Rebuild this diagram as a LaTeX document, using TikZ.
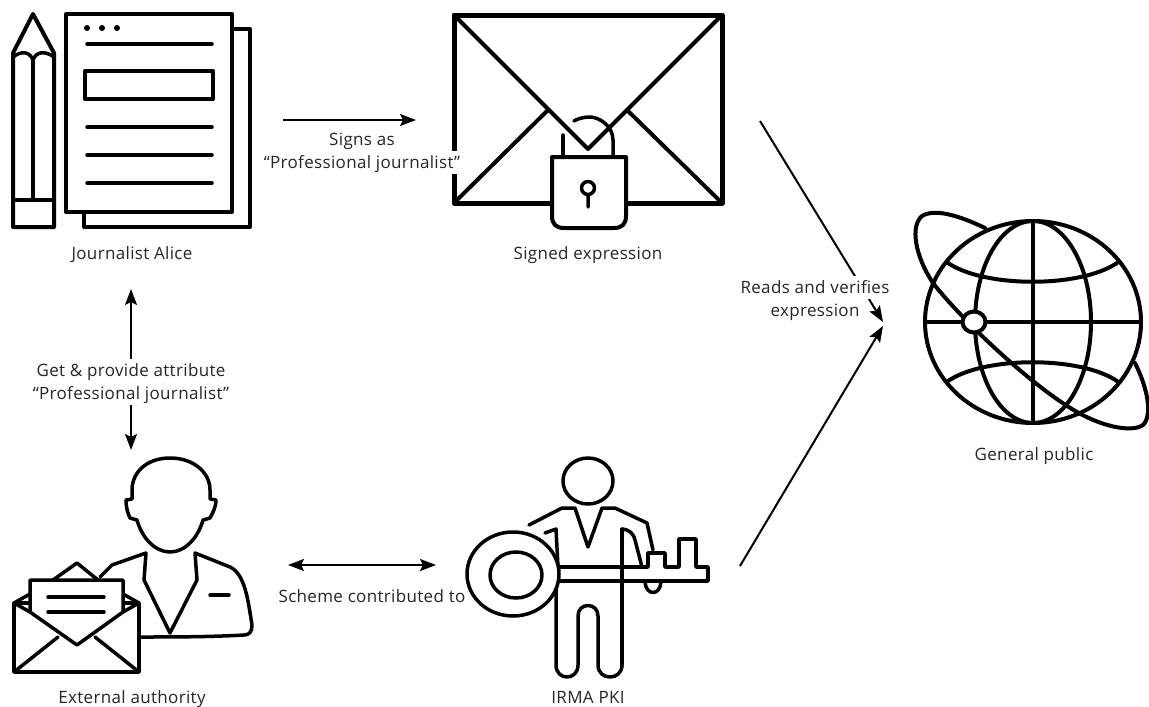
\documentclass[tikz,border=0pt]{standalone}
\usepackage{fontspec}
\setmainfont[LetterSpace=2]{Open Sans}
\usetikzlibrary{arrows.meta}
\usetikzlibrary{positioning}

\begin{document}
\begin{tikzpicture}[x=1pt,y=-1pt,>={Stealth[length=16pt,width=12pt,inset=3pt]},semithick]
		\tikzstyle{icon}=[draw=black,line width=4pt,line join=round,line cap=round]
		\tikzstyle{thin icon}=[icon,line width=3.5pt]
		\tikzstyle{label}=[fill=white,text=black!85,inner xsep=1pt,inner ysep=3pt,text height=15pt,text depth=2pt,font=\fontsize{17}{23}\selectfont]
		\tikzstyle{link}=[line width=2pt,black]
		
		\useasboundingbox (0,0) rectangle (1149,707);
		
		% pencil
		\draw[icon] (13,227) -- (13,53) -- (33,14) -- (54,53) -- (54,227) -- cycle;
		\draw[thin icon] (13,57) .. controls (22,50) and (30,52) .. (33,60) .. controls (36,52) and (44,50) .. (54,57);
		\draw[thin icon] (33,60) -- (33,200) (13,200) -- (54,200);
		
		% pages
		\draw[icon] (232,29) -- (250,29) -- (250,227) -- (84,227) -- (84,212);
		\draw[icon] (66,14) rectangle (232,212);
		\draw[icon] (85,71) rectangle (213,99);
		\foreach \y in {44,127,155,183}
			\draw[thin icon] (87,\y) -- (212,\y);
		\foreach \x in {87,102,117}
			\fill (\x,28) circle (3pt);
		
		% envelope with lock
		\draw[icon,line width=5pt] (454,15) rectangle (722,203);
		\draw[icon] (454,15) -- (588,149) -- (722,15);
		\draw[icon] (454,203) -- (548,110) (722,203) -- (628,111);
		\draw[icon,fill=white] (552,157) -- (626,157) -- (626,216) .. controls (626,224) and (622,228) .. (614,228) -- (564,228) .. controls (556,228) and (552,224) .. (552,216) -- cycle;
		\draw[thin icon] (563,157) -- (563,135);
		\draw[thin icon] (613,157) -- (613,140) .. controls (613,125) and (598,117) .. (590,117) .. controls (583,117) and (577,119) .. (574,121);
		\draw[thin icon] (588,188) circle (6.5pt) (588,195) -- (588,207);
		
		% authority
		\draw[thin icon] (170,458) .. controls (147,458) and (132,472) .. (132,490) -- (132,499) -- (126,500) .. controls (126,508) and (128,514) .. (130,518) -- (137,520) .. controls (142,538) and (155,552) .. (170,552) .. controls (185,552) and (198,538) .. (203,520) -- (210,518) .. controls (212,514) and (216,508) .. (216,500) -- (210,499) -- (210,490) .. controls (210,472) and (193,458) .. (170,458) -- cycle;
		\draw[thin icon] (100,577) -- (112,565) -- (146,553) -- (144,580) -- (170,633) -- (197,580) -- (195,553) -- (230,567) .. controls (245,574) and (248,600) .. (252,625) .. controls (252,631) and (250,635) .. (244,635) .. controls (210,637) and (170,637) .. (138,637);
		\draw[thin icon] (210,595) -- (229,595);
		\draw[thin icon] (53,580) -- (77,563) -- (98,580);
		\draw[thin icon] (14,603) -- (30,594) (123,594) -- (139,603);
		\draw[thin icon,fill=white] (14,603) rectangle (139,672);
		\draw[thin icon,fill=white] (30,612) -- (30,580) -- (123,580) -- (123,612) -- (77,645) -- cycle;
		\draw[thin icon] (14,603) -- (30,612) (139,603) -- (123,612);
		\draw[thin icon] (14,672) -- (58,637) (139,672) -- (95,637);
		\draw[thin icon] (48,597) -- (104,597) (48,612) -- (104,612);
		
		% key holder
		\draw[thin icon] (588,481) ellipse (25pt and 23pt);
		\draw[thin icon] (529,525) -- (562,508) -- (575,508) -- (588,547) -- (602,508) -- (615,508) -- (647,523) -- (653,550);
		\draw[thin icon] (545,533) -- (556,529) -- (558,567);
		\draw[thin icon] (622,529) .. controls (630,530) and (633,533) .. (635,540) -- (642,567);
		\draw[thin icon] (556,583) -- (556,665) .. controls (556,681) and (578,681) .. (578,665) -- (578,616) .. controls (578,602) and (598,602) .. (598,616) -- (598,665) .. controls (598,681) and (622,681) .. (622,665);
		\draw[thin icon] (645,582) .. controls (646,596) and (660,596) .. (661,582);
		\draw[thin icon,fill=white] (558,581) -- (708,581) -- (708,567) -- (696,567) -- (696,539) -- (679,539) -- (679,567) -- (665,567) -- (665,553) -- (648,553) -- (648,567) -- (558,567);
		\draw[thin icon] (622,665) -- (622,529);
		\draw[thin icon,fill=white] (513,574) ellipse (46pt and 42pt);
		\draw[thin icon] (516,575) ellipse (26pt and 23pt);
		
		% globe
		\draw[icon] (1033,322) ellipse (108pt and 101pt);
		\draw[icon] (1033,322) ellipse (58pt and 101pt);
		\draw[icon] (1033,222) -- (1033,423) (925,322) -- (1141,322);
		\draw[icon] (948,263) .. controls (985,288) and (1080,288) .. (1117,263);
		\draw[icon] (948,381) .. controls (985,356) and (1080,356) .. (1117,381);
		\draw[icon] (985,228) .. controls (960,216) and (935,208) .. (922,216) .. controls (910,226) and (915,256) .. (933,283) .. controls (960,318) and (1030,385) .. (1077,412) .. controls (1105,428) and (1135,433) .. (1144,424) .. controls (1153,412) and (1146,385) .. (1135,363);
		\draw[icon,fill=white] (974,322) ellipse (11.5pt and 10.5pt);
		
		% ends of the links
		\coordinate (AliceOut) at (283,120);
		\coordinate (SignedIn) at (416,120);
		\coordinate (AliceDown) at (131,289);
		\coordinate (AuthorityUp) at (131,450);
		\coordinate (AuthorityOut) at (288,565);
		\coordinate (PkiIn) at (436,565);
		\coordinate (SignedOut) at (760,121);
		\coordinate (PkiOut) at (740,566);
		\coordinate (PublicTop) at (883,322);
		\coordinate (PublicLow) at (883,326);
		
		\draw[link,->] (AliceOut) -- (SignedIn);
		\draw[link,<->] (AliceDown) -- (AuthorityUp);
		\draw[link,<->] (AuthorityOut) -- (PkiIn);
		\draw[link,->] (SignedOut) -- (PublicTop);
		\draw[link,->] (PkiOut) -- (PublicLow);
		
		\node[label] (AliceTxt) at (132,253) {Journalist Alice};
		\node[label] (SignedTxt) at (588,253) {Signed expression};
		\node[label] (AuthorityTxt) at (132,697) {External authority};
		\node[label] (PkiTxt) at (588,697) {IRMA PKI};
		\node[label] (PublicTxt) at (1034,454) {General public};
		\node[label] (SignsTxt) at (362,139) {Signs as};
		\node[label] (SignsSubTxt) at (362,162) {“Professional journalist”};
		\node[label] (AttrTxt) at (131,370) {Get \& provide attribute};
		\node[label] (AttrSubTxt) at (131,393) {“Professional journalist”};
		\node[label] (SchemeTxt) at (372,596) {Scheme contributed to};
		\node[label] (ReadsTxt) at (815,287) {Reads and verifies};
		\node[label] (ReadsSubTxt) at (815,310) {expression};
		\end{tikzpicture}
\end{document}
